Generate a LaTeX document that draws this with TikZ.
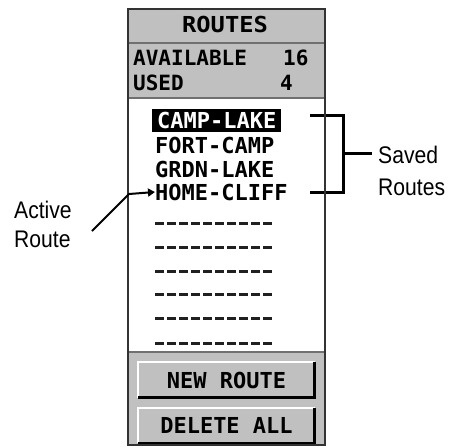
\documentclass[tikz,border=0pt]{standalone}
\usepackage{fontspec}
\setmainfont{Liberation Sans}
\newfontfamily\lcd{DejaVu Sans Mono}
\newfontfamily\lcdw[FakeStretch=1.08]{DejaVu Sans Mono}
\newfontfamily\lbl[FakeStretch=0.88]{Liberation Sans}
\usetikzlibrary{arrows.meta}
\definecolor{panel}{HTML}{C0C0C0}
\definecolor{frm}{HTML}{333333}
\definecolor{sep}{HTML}{707070}
\definecolor{slot}{HTML}{202020}
\tikzset{
  lcdtxt/.style={inner sep=0pt, font=\lcd\bfseries\fontsize{22}{22}\selectfont, anchor=base west},
  lbltxt/.style={inner sep=0pt, font=\lbl\fontsize{24}{24}\selectfont, anchor=base west},
  slotline/.style={slot, line width=3pt, dash pattern=on 9pt off 3pt},
  bracket/.style={line width=3pt, black},
  btn/.style={inner sep=0pt, fill=panel, minimum width=176pt, minimum height=35pt,
              font=\lcd\bfseries\fontsize{22}{22}\selectfont},
  hilite/.style={white, line width=2pt},
  shade/.style={black, line width=2.5pt},
  pointer/.style={line width=2pt, black, -{Triangle[length=7pt,width=8pt]}}
}
\begin{document}
\begin{tikzpicture}[x=1pt,y=-1pt]
\useasboundingbox (0,0) rectangle (449,447);
% panels
\fill[white] (128,9) rectangle (325,445);
\fill[panel] (128,9) rectangle (325,98);
\fill[panel] (128,352) rectangle (325,445);
\draw[sep, line width=1.5pt] (128,43) -- (325,43);
\draw[sep, line width=1.5pt] (128,98) -- (325,98);
\draw[sep, line width=1.5pt] (128,352) -- (325,352);
% header texts
\node[lcdtxt, anchor=base, font=\lcdw\bfseries\fontsize{22}{22}\selectfont] (title) at (225,32) {ROUTES};
\node[lcdtxt, font=\lcd\bfseries\fontsize{21}{21}\selectfont] (avail) at (133,65) {AVAILABLE};
\node[lcdtxt, font=\lcd\bfseries\fontsize{21}{21}\selectfont] (availn) at (283,65) {16};
\node[lcdtxt, font=\lcd\bfseries\fontsize{21}{21}\selectfont] (used) at (133,90) {USED};
\node[lcdtxt, font=\lcd\bfseries\fontsize{21}{21}\selectfont] (usedn) at (280,90) {4};
% routes
\node[lcdtxt, fill=black, text=white, minimum width=129pt, text height=19pt, text depth=4pt] (r1) at (152,128) {CAMP-LAKE};
\node[lcdtxt] (r2) at (155,153) {FORT-CAMP};
\node[lcdtxt] (r3) at (155,177) {GRDN-LAKE};
\node[lcdtxt] (r4) at (155,200) {HOME-CLIFF};
% empty slots
\foreach \y in {223,247,271,294,318,343}
  \draw[slotline] (155,\y) -- (272,\y);
% buttons
\node[btn] (newbtn) at (226.5,380) {NEW ROUTE};
\node[btn] (delbtn) at (226.5,425.5) {DELETE ALL};
\foreach \b in {newbtn,delbtn}{
  \draw[hilite] (\b.south west) |- (\b.north east);
  \draw[shade] (\b.south west) -| (\b.north east);
}
% bracket
\coordinate (bt) at (310,115);
\coordinate (bb) at (310,192);
\coordinate (bm) at (343,153);
\draw[bracket] (bt) -- (343,115) -- (343,192) -- (bb);
\draw[bracket] (bm) -- (372,153);
% frame
\draw[frm, line width=2pt] (128,9) rectangle (325,445);
% labels
\node[lbltxt] (saved) at (378,163) {Saved};
\node[lbltxt] (savedb) at (378,195) {Routes};
\node[lbltxt] (active) at (14,218) {Active};
\node[lbltxt] (activeb) at (14,247) {Route};
\coordinate (ps) at (92,231);
\draw[pointer] (ps) -- (129,194) -- (r4.west |- 0,192);
\end{tikzpicture}
\end{document}
